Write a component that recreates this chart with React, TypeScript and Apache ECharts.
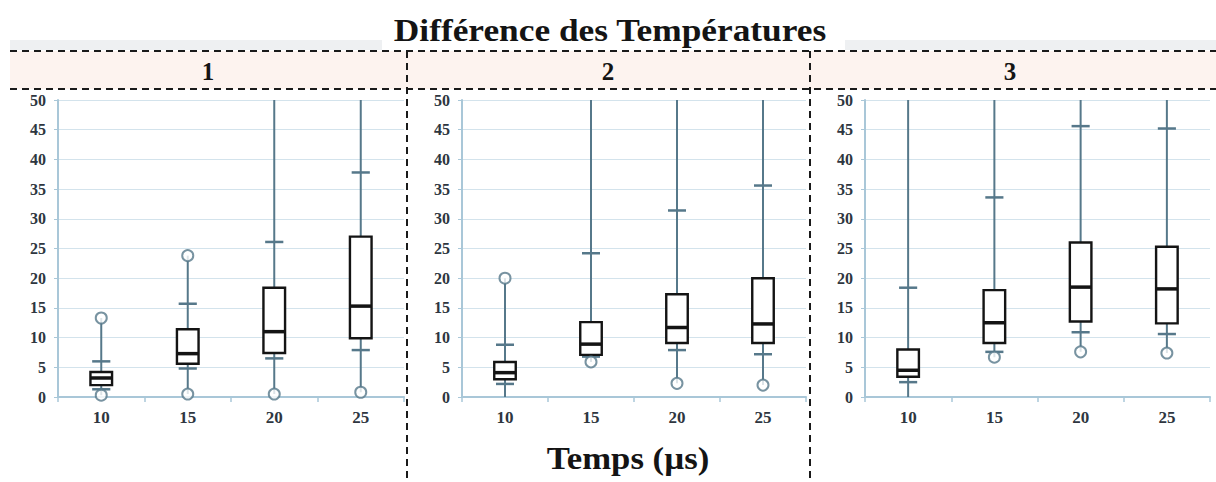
import React, { useEffect, useRef } from "react";
import * as echarts from "echarts";

const categories = ["10", "15", "20", "25"];
const panelNames = ["1", "2", "3"];
const titleText = "Différence des Températures";
const xTitle = "Temps (µs)";

// Panel 1
const p1WhiskerLow = [0.3, 0.5, 0.5, 0.8];
const p1CapLow = [1.3, 4.8, 6.5, 7.9];
const p1Q1 = [2.0, 5.6, 7.4, 9.9];
const p1Median = [3.2, 7.3, 11.0, 15.3];
const p1Q3 = [4.2, 11.4, 18.4, 27.0];
const p1CapHigh = [6.0, 15.7, 26.1, 37.8];
const p1WhiskerHigh = [13.3, 23.8, 50, 50];
const p1Circles = [[0, 13.3], [0, 0.3], [1, 23.8], [1, 0.5], [2, 0.5], [3, 0.8]];

// Panel 2
const p2WhiskerLow = [0, 5.9, 2.3, 2.0];
const p2CapLow = [2.2, 6.8, 7.9, 7.2];
const p2Q1 = [3.0, 7.1, 9.1, 9.1];
const p2Median = [4.1, 8.9, 11.7, 12.3];
const p2Q3 = [5.9, 12.6, 17.3, 20.0];
const p2CapHigh = [8.8, 24.2, 31.4, 35.6];
const p2WhiskerHigh = [20, 50, 50, 50];
const p2Circles = [[0, 20], [1, 5.9], [2, 2.3], [3, 2.0]];

// Panel 3
const p3WhiskerLow = [0, 6.7, 7.6, 7.4];
const p3CapLow = [2.5, 7.6, 10.9, 10.6];
const p3Q1 = [3.4, 9.1, 12.7, 12.4];
const p3Median = [4.5, 12.5, 18.5, 18.2];
const p3Q3 = [8.0, 18.0, 26.0, 25.3];
const p3CapHigh = [18.4, 33.6, 45.6, 45.2];
const p3WhiskerHigh = [50, 50, 50, 50];
const p3Circles = [[1, 6.7], [2, 7.6], [3, 7.4]];

const panels = [
  { wl: p1WhiskerLow, cl: p1CapLow, q1: p1Q1, md: p1Median, q3: p1Q3, ch: p1CapHigh, wh: p1WhiskerHigh, circles: p1Circles },
  { wl: p2WhiskerLow, cl: p2CapLow, q1: p2Q1, md: p2Median, q3: p2Q3, ch: p2CapHigh, wh: p2WhiskerHigh, circles: p2Circles },
  { wl: p3WhiskerLow, cl: p3CapLow, q1: p3Q1, md: p3Median, q3: p3Q3, ch: p3CapHigh, wh: p3WhiskerHigh, circles: p3Circles },
];

const FONT = "'Liberation Serif', 'Times New Roman', serif";
const WHISKER = "#56788a";
const AXIS = "#a9c7d8";
const GRID = "#d3e3ec";

const gridBoxes = [
  { left: 58, width: 346 },
  { left: 462, width: 344 },
  { left: 865, width: 345 },
];
const stripCenters = [208, 608, 1010];

export default function App() {
  const ref = useRef<HTMLDivElement>(null);

  useEffect(() => {
    if (!ref.current) return;
    const chart = echarts.init(ref.current, undefined, { renderer: "svg" });

    const grids = gridBoxes.map((g) => ({ left: g.left, width: g.width, top: 100, height: 297 }));

    const xAxes = gridBoxes.map((_, i) => ({
      type: "category",
      gridIndex: i,
      data: categories,
      boundaryGap: true,
      axisLine: { lineStyle: { color: AXIS, width: 2 } },
      axisTick: { show: true, length: 5, lineStyle: { color: AXIS, width: 1.5 } },
      axisLabel: { color: "#2e3640", fontFamily: FONT, fontWeight: "bold", fontSize: 17, margin: 12 },
      splitLine: { show: false },
    }));

    const yAxes = gridBoxes.map((_, i) => ({
      type: "value",
      gridIndex: i,
      min: 0,
      max: 50,
      interval: 5,
      axisLine: { show: true, lineStyle: { color: AXIS, width: 2 } },
      axisTick: { show: true, length: 4, lineStyle: { color: AXIS } },
      axisLabel: { color: "#2e3640", fontFamily: FONT, fontWeight: "bold", fontSize: 16, margin: 12 },
      splitLine: { show: true, lineStyle: { color: GRID, width: 1 } },
    }));

    const series: any[] = [];
    panels.forEach((p, i) => {
      const data = categories.map((_, k) => [k, p.wl[k], p.cl[k], p.q1[k], p.md[k], p.q3[k], p.ch[k], p.wh[k]]);
      series.push({
        type: "custom",
        xAxisIndex: i,
        yAxisIndex: i,
        z: 2,
        encode: { x: 0, y: [1, 2, 3, 4, 5, 6, 7] },
        data,
        renderItem: (params: any, api: any) => {
          const x = api.value(0);
          const c = (v: number) => api.coord([x, v]);
          const bw = api.size([1, 0])[0];
          const half = bw * 0.125;
          const capHalf = bw * 0.105;
          const pWl = c(api.value(1));
          const pCl = c(api.value(2));
          const pQ1 = c(api.value(3));
          const pMd = c(api.value(4));
          const pQ3 = c(api.value(5));
          const pCh = c(api.value(6));
          const pWh = c(api.value(7));
          const cx = pMd[0];
          const wStyle = { stroke: WHISKER, lineWidth: 2 };
          const capStyle = { stroke: WHISKER, lineWidth: 2.5 };
          return {
            type: "group",
            children: [
              { type: "line", shape: { x1: cx, y1: pWl[1], x2: cx, y2: pWh[1] }, style: wStyle },
              { type: "line", shape: { x1: cx - capHalf, y1: pCl[1], x2: cx + capHalf, y2: pCl[1] }, style: capStyle },
              { type: "line", shape: { x1: cx - capHalf, y1: pCh[1], x2: cx + capHalf, y2: pCh[1] }, style: capStyle },
              {
                type: "rect",
                shape: { x: cx - half, y: pQ3[1], width: half * 2, height: pQ1[1] - pQ3[1] },
                style: { fill: "#ffffff", stroke: "#141414", lineWidth: 2.4 },
              },
              {
                type: "line",
                shape: { x1: cx - half, y1: pMd[1], x2: cx + half, y2: pMd[1] },
                style: { stroke: "#141414", lineWidth: 3.5 },
              },
            ],
          };
        },
      });
      series.push({
        type: "scatter",
        xAxisIndex: i,
        yAxisIndex: i,
        z: 3,
        symbol: "circle",
        symbolSize: 11,
        itemStyle: { color: "#ffffff", borderColor: WHISKER, borderWidth: 2 },
        data: p.circles,
      });
    });

    const dash = { stroke: "#1a1a1a", lineWidth: 2, lineDash: [7, 5] };
    const textStyle = (text: string, size: number) => ({
      text,
      font: `bold ${size}px ${FONT}`,
      fill: "#141414",
      align: "center",
      verticalAlign: "middle",
      textAlign: "center",
      textVerticalAlign: "middle",
    });

    const graphic: any[] = [
      { type: "rect", z: -10, shape: { x: 10, y: 51, width: 1206, height: 38 }, style: { fill: "#fdf3ef" } },
      { type: "rect", z: -10, shape: { x: 10, y: 40, width: 372, height: 10 }, style: { fill: "#eef0f2" } },
      { type: "rect", z: -10, shape: { x: 845, y: 40, width: 371, height: 10 }, style: { fill: "#eef0f2" } },
      { type: "line", shape: { x1: 10, y1: 51, x2: 1216, y2: 51 }, style: dash },
      { type: "line", shape: { x1: 10, y1: 89, x2: 1216, y2: 89 }, style: dash },
      { type: "line", shape: { x1: 407, y1: 51, x2: 407, y2: 478 }, style: dash },
      { type: "line", shape: { x1: 810, y1: 51, x2: 810, y2: 478 }, style: dash },
      { type: "text", x: 610, y: 30, scaleX: 1.14, style: textStyle(titleText, 31) },
      { type: "text", x: 628, y: 459, scaleX: 1.12, style: textStyle(xTitle, 31) },
      ...panelNames.map((n, i) => ({ type: "text", x: stripCenters[i], y: 71, style: textStyle(n, 25) })),
    ];

    chart.setOption({
      animation: false,
      backgroundColor: "#ffffff",
      grid: grids,
      xAxis: xAxes,
      yAxis: yAxes,
      series,
      graphic,
    });

    return () => chart.dispose();
  }, []);

  return (
    <div
      ref={ref}
      style={{ position: "fixed", left: 0, top: 0, width: 1216, height: 482 }}
    />
  );
}
